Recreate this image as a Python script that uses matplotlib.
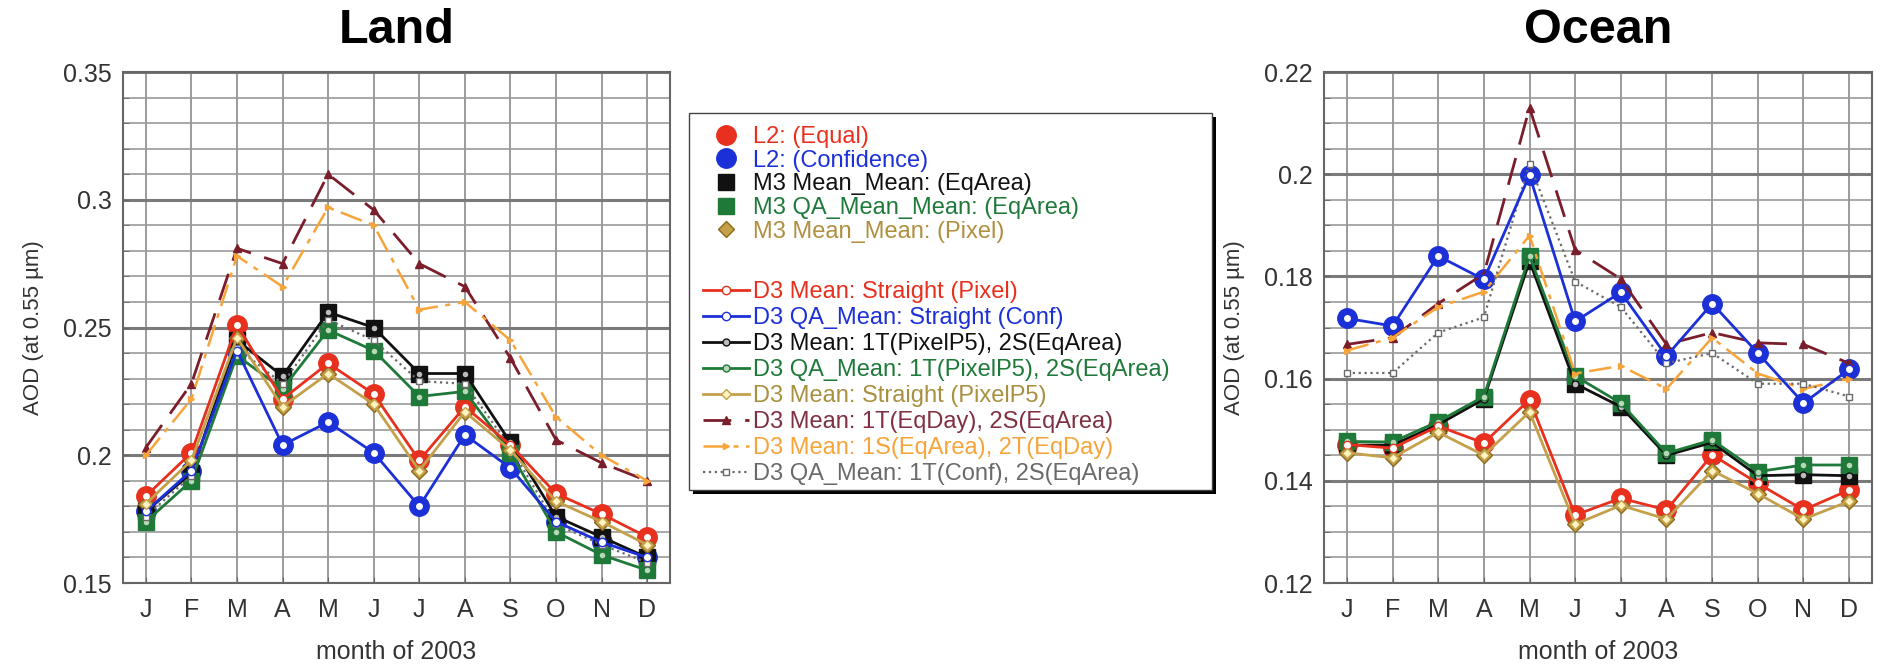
import numpy as np
import matplotlib.pyplot as plt
from matplotlib.patches import Rectangle
from matplotlib.ticker import FuncFormatter, MultipleLocator

plt.rcParams['font.family'] = ['Liberation Sans', 'DejaVu Sans']

months = ['J', 'F', 'M', 'A', 'M', 'J', 'J', 'A', 'S', 'O', 'N', 'D']

# ---- Land (AOD at 0.55 um) ----
land_l2_equal = [0.184, 0.201, 0.251, 0.222, 0.236, 0.224, 0.198, 0.219, 0.204, 0.185, 0.177, 0.168]
land_l2_conf = [0.178, 0.194, 0.241, 0.204, 0.213, 0.201, 0.180, 0.208, 0.195, 0.174, 0.166, 0.160]
land_m3_eqarea = [0.178, 0.193, 0.245, 0.231, 0.256, 0.250, 0.232, 0.232, 0.205, 0.176, 0.168, 0.160]
land_m3_qa_eqarea = [0.174, 0.190, 0.239, 0.226, 0.249, 0.241, 0.223, 0.225, 0.201, 0.170, 0.161, 0.155]
land_m3_pixel = [0.181, 0.198, 0.246, 0.219, 0.232, 0.220, 0.194, 0.217, 0.202, 0.182, 0.174, 0.165]
land_eqday = [0.203, 0.228, 0.281, 0.275, 0.310, 0.296, 0.275, 0.266, 0.238, 0.206, 0.197, 0.190]
land_1s_eqarea = [0.200, 0.222, 0.278, 0.266, 0.297, 0.290, 0.257, 0.260, 0.245, 0.215, 0.200, 0.190]
land_qa_conf = [0.176, 0.192, 0.242, 0.228, 0.253, 0.245, 0.229, 0.228, 0.203, 0.173, 0.165, 0.158]

# ---- Ocean ----
ocean_l2_equal = [0.1471, 0.1464, 0.1507, 0.1474, 0.1559, 0.1333, 0.1366, 0.1343, 0.1451, 0.1395, 0.1343, 0.1382]
ocean_l2_conf = [0.1718, 0.1703, 0.1840, 0.1794, 0.1998, 0.1712, 0.1769, 0.1644, 0.1747, 0.1650, 0.1552, 0.1618]
ocean_m3_eqarea = [0.1470, 0.1470, 0.1510, 0.1560, 0.1830, 0.1590, 0.1545, 0.1450, 0.1475, 0.1410, 0.1412, 0.1410]
ocean_m3_qa_eqarea = [0.1477, 0.1476, 0.1516, 0.1565, 0.1840, 0.1605, 0.1552, 0.1454, 0.1480, 0.1418, 0.1431, 0.1431]
ocean_m3_pixel = [0.1455, 0.1445, 0.1495, 0.1450, 0.1535, 0.1315, 0.1352, 0.1325, 0.1420, 0.1375, 0.1325, 0.1360]
ocean_eqday = [0.1667, 0.1680, 0.1747, 0.1805, 0.2130, 0.1852, 0.1795, 0.1667, 0.1690, 0.1670, 0.1667, 0.1630]
ocean_1s_eqarea = [0.1655, 0.1680, 0.1740, 0.1770, 0.1880, 0.1610, 0.1625, 0.1580, 0.1680, 0.1610, 0.1580, 0.1600]
ocean_qa_conf = [0.1611, 0.1611, 0.1690, 0.1720, 0.2020, 0.1790, 0.1740, 0.1630, 0.1650, 0.1590, 0.1590, 0.1565]

red = '#e8301e'
blue = '#1c30d8'
black = '#111111'
green = '#1f7a3a'
olive = '#8c6a1c'
tan = '#c4a04a'
maroon = '#7a1e2c'
orange = '#f7a43a'
gray = '#6a6a6a'

x = np.arange(1, 13)

fig = plt.figure(figsize=(18.81, 6.68), dpi=100)
ax_land = fig.add_axes([0.0654, 0.1272, 0.2908, 0.765])
ax_ocean = fig.add_axes([0.7039, 0.1272, 0.2913, 0.765])


def draw(ax, l2e, l2c, m3, m3qa, m3px, eqday, s1, qac):
    h = {}
    # level 2 / M3 markers
    h['l2e'], = ax.plot(x, l2e, 'o', color=red, ms=14, zorder=3)
    h['l2c'], = ax.plot(x, l2c, 'o', color=blue, ms=14, zorder=3)
    h['m3'], = ax.plot(x, m3, 's', color=black, ms=12, zorder=3)
    h['m3qa'], = ax.plot(x, m3qa, 's', color=green, ms=12, zorder=3)
    h['m3px'], = ax.plot(x, m3px, 'D', color=olive, mfc=tan, mec=olive, ms=8, zorder=3)
    # D3 lines
    h['d3e'], = ax.plot(x, l2e, '-o', color=red, lw=2, ms=6, mfc='white', mec=red, zorder=5)
    h['d3c'], = ax.plot(x, l2c, '-o', color=blue, lw=2, ms=6, mfc='white', mec=blue, zorder=5)
    h['d3m'], = ax.plot(x, m3, '-o', color=black, lw=2, ms=5, mfc='#bbbbbb', mec=black, zorder=4)
    h['d3qa'], = ax.plot(x, m3qa, '-o', color=green, lw=2, ms=5, mfc='#b8d8b8', mec=green, zorder=4)
    h['d3px'], = ax.plot(x, m3px, '-D', color=tan, lw=2, ms=5, mfc='#fff4c0', mec=tan, zorder=5)
    h['eqday'], = ax.plot(x, eqday, '-^', color=maroon, lw=2, ms=6, dashes=(10, 5), zorder=4)
    h['s1'], = ax.plot(x, s1, '->', color=orange, lw=1.8, ms=5, dashes=(9, 3, 2, 3), zorder=4)
    h['qac'], = ax.plot(x, qac, ':s', color=gray, lw=1.6, ms=5, mfc='white', mec=gray, zorder=4)
    return h


def style(ax, title, ymin, ymax, major, minor):
    ax.set_xlim(0.5, 12.5)
    ax.set_ylim(ymin, ymax)
    ax.set_xticks(x)
    ax.set_xticklabels(months)
    ax.yaxis.set_major_locator(MultipleLocator(major))
    ax.yaxis.set_minor_locator(MultipleLocator(minor))
    ax.yaxis.set_major_formatter(FuncFormatter(lambda v, p: '%g' % round(v, 3)))
    ax.grid(True, which='major', axis='y', color='#7a7a7a', lw=2.2)
    ax.grid(True, which='minor', axis='y', color='#9a9a9a', lw=1.2)
    ax.grid(True, which='major', axis='x', color='#8a8a8a', lw=1.2)
    ax.set_axisbelow(True)
    ax.tick_params(axis='both', which='both', direction='in', length=4, color='#666666',
                   labelsize=18, labelcolor='#333333')
    ax.tick_params(axis='x', pad=11)
    ax.tick_params(axis='y', pad=8)
    for s in ax.spines.values():
        s.set_color('#666666')
        s.set_linewidth(1.5)
    ax.set_title(title, fontsize=35, fontweight='bold', pad=21)
    ax.set_xlabel('month of 2003', fontsize=18, color='#333333', labelpad=13)
    ax.set_ylabel('AOD (at 0.55 µm)', fontsize=16, color='#333333', labelpad=14)


h = draw(ax_land, land_l2_equal, land_l2_conf, land_m3_eqarea, land_m3_qa_eqarea,
         land_m3_pixel, land_eqday, land_1s_eqarea, land_qa_conf)
draw(ax_ocean, ocean_l2_equal, ocean_l2_conf, ocean_m3_eqarea, ocean_m3_qa_eqarea,
     ocean_m3_pixel, ocean_eqday, ocean_1s_eqarea, ocean_qa_conf)
style(ax_land, 'Land', 0.15, 0.35, 0.05, 0.01)
style(ax_ocean, 'Ocean', 0.12, 0.22, 0.02, 0.005)

# legend box with drop shadow
fig.patches.append(Rectangle((0.3685, 0.2605), 0.278, 0.5644, transform=fig.transFigure,
                             facecolor='black', edgecolor='none', zorder=1))
fig.patches.append(Rectangle((0.3663, 0.2665), 0.278, 0.5644, transform=fig.transFigure,
                             facecolor='white', edgecolor='#444444', lw=1, zorder=2))

top_keys = ['l2e', 'l2c', 'm3', 'm3qa', 'm3px']
top_labels = ['L2: (Equal)', 'L2: (Confidence)', 'M3 Mean_Mean: (EqArea)',
              'M3 QA_Mean_Mean: (EqArea)', 'M3 Mean_Mean: (Pixel)']
top_colors = [red, blue, black, green, '#b09040']
bot_keys = ['d3e', 'd3c', 'd3m', 'd3qa', 'd3px', 'eqday', 's1', 'qac']
bot_labels = ['D3 Mean: Straight (Pixel)', 'D3 QA_Mean: Straight (Conf)',
              'D3 Mean: 1T(PixelP5), 2S(EqArea)', 'D3 QA_Mean: 1T(PixelP5), 2S(EqArea)',
              'D3 Mean: Straight (PixelP5)', 'D3 Mean: 1T(EqDay), 2S(EqArea)',
              'D3 Mean: 1S(EqArea), 2T(EqDay)', 'D3 QA_Mean: 1T(Conf), 2S(EqArea)']
bot_colors = [red, blue, black, green, '#a89040', '#803040', orange, gray]

leg_kw = dict(loc='upper left', frameon=False, borderpad=0, borderaxespad=0,
              handlelength=1.95, handletextpad=0.15, numpoints=1, fontsize=17)
leg1 = fig.legend([h[k] for k in top_keys], top_labels, bbox_to_anchor=(0.3737, 0.8115),
                  labelspacing=0.07, **leg_kw)
leg2 = fig.legend([h[k] for k in bot_keys], bot_labels, bbox_to_anchor=(0.3737, 0.579),
                  labelspacing=0.17, **leg_kw)
for leg, cols in ((leg1, top_colors), (leg2, bot_colors)):
    leg.set_zorder(3)
    for t, c in zip(leg.get_texts(), cols):
        t.set_color(c)

fig.savefig('out.png', dpi=100)
